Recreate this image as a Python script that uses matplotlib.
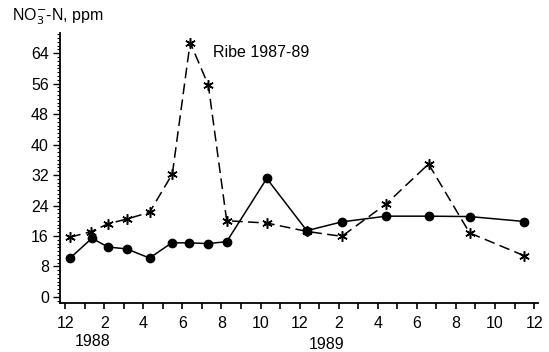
import matplotlib.pyplot as plt
from matplotlib.ticker import MultipleLocator
from matplotlib.transforms import blended_transform_factory

plt.rcParams["font.family"] = ["Liberation Sans", "DejaVu Sans"]

# months counted from December 1987 (= 0)
month_ticks = list(range(0, 25))
month_labels = [str((11 + m) % 12 + 1) if m % 2 == 0 else "" for m in month_ticks]

# solid line, filled circles
circ_month = [0.26, 1.37, 2.2, 3.16, 4.32, 5.46, 6.35, 7.3, 8.27, 10.32,
              12.37, 14.16, 16.43, 18.6, 20.7, 23.5]
circ_no3 = [10.2, 15.4, 13.1, 12.6, 10.2, 14.2, 14.2, 14.0, 14.5, 31.1,
            17.4, 19.7, 21.2, 21.2, 21.1, 19.8]

# dashed line, asterisks
star_month = [0.26, 1.31, 2.2, 3.19, 4.32, 5.49, 6.4, 7.33, 8.27, 10.32,
              12.37, 14.16, 16.43, 18.6, 20.7, 23.5]
star_no3 = [15.7, 17.1, 19.2, 20.5, 22.2, 32.3, 66.8, 55.6, 20.0, 19.4,
            17.2, 15.9, 24.4, 34.9, 16.8, 10.8]

years = ["1988", "1989"]
year_pos = [1.4, 13.4]

fs = 11.5

fig = plt.figure(figsize=(5.49, 3.52), dpi=100)
ax = fig.add_axes([60 / 549, 49 / 352, 478 / 549, 270 / 352])

ax.plot(circ_month, circ_no3, color="black", lw=1.1, marker="o", ms=6)
ax.plot(star_month, star_no3, color="black", lw=1.1, ls=(0, (7, 3.5)),
        marker=(6, 2, 0), ms=7.5, mew=1.1)

ax.set_xlim(-0.26, 24.2)
ax.set_ylim(-1.6, 69.3)

ax.set_xticks(month_ticks)
ax.set_xticklabels(month_labels)
ax.set_yticks(range(0, 65, 8))
ax.yaxis.set_minor_locator(MultipleLocator(1))

for side in ("top", "right"):
    ax.spines[side].set_visible(False)
for side in ("left", "bottom"):
    ax.spines[side].set_linewidth(1.3)

ax.tick_params(axis="x", direction="out", length=4, width=1.2, pad=5,
               labelsize=fs)
ax.tick_params(axis="y", which="major", direction="out", length=5, width=1,
               pad=3, labelsize=fs)
ax.tick_params(axis="y", which="minor", direction="out", length=2.5, width=0.8)

trans = blended_transform_factory(ax.transData, fig.transFigure)
ax.text(year_pos[0], 10 / 352, years[0], transform=trans, ha="center",
        va="center", fontsize=fs)
ax.text(year_pos[1], 7.5 / 352, years[1], transform=trans, ha="center",
        va="center", fontsize=fs)

ax.text(7.57, 64.3, "Ribe 1987-89", ha="left", va="center", fontsize=fs)
fig.text(12 / 549, 1 - 17 / 352, r"NO$_3^{-}$-N, ppm", ha="left", va="center",
         fontsize=fs)

fig.savefig("out.png", dpi=100)
